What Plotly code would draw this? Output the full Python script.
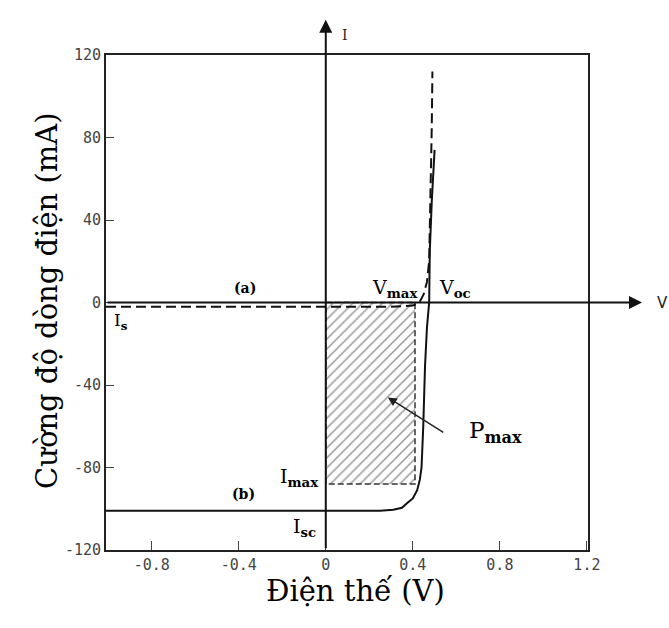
import plotly.graph_objects as go

# Data
x_tick_vals = [-0.8, -0.4, 0.0, 0.4, 0.8, 1.2]
x_tick_text = ["-0.8", "-0.4", "0", "0.4", "0.8", "1.2"]
y_tick_vals = [120, 80, 40, 0, -40, -80, -120]
y_tick_text = ["120", "80", "40", "0", "-40", "-80", "-120"]

# curve (b): illuminated I-V curve (solid)
v_b = [-1.01, 0.0, 0.25, 0.31, 0.35, 0.377, 0.40, 0.42, 0.432, 0.44, 0.448, 0.456, 0.465, 0.475, 0.478, 0.487, 0.50]
i_b = [-101, -101, -101, -100.5, -99.5, -97, -95, -91, -86, -80, -60, -31, -12, 0, 25, 49, 74]

# curve (a): dark I-V curve (dashed)
v_a = [-1.01, 0.0, 0.3, 0.4, 0.43, 0.45, 0.465, 0.475, 0.482, 0.487, 0.49]
i_a = [-2, -2, -2, -1.5, 0, 4, 10, 20, 50, 85, 112]

# maximum power point
v_max = 0.41
i_max = -88

fig = go.Figure()

# hatched max-power rectangle
fig.add_trace(go.Scatter(
    x=[0, v_max, v_max, 0, 0], y=[0, 0, i_max, i_max, 0],
    mode="lines", fill="toself", fillcolor="rgba(255,255,255,0)",
    fillpattern=dict(shape="/", fgcolor="#333", bgcolor="white", size=7, solidity=0.22),
    line=dict(color="#333", width=1.5, dash="6px,3px"),
    hoverinfo="skip", showlegend=False))

fig.add_trace(go.Scatter(
    x=v_a, y=i_a, mode="lines",
    line=dict(color="#111", width=2, dash="10px,5px"),
    hoverinfo="skip", showlegend=False))

fig.add_trace(go.Scatter(
    x=v_b, y=i_b, mode="lines",
    line=dict(color="#111", width=2),
    hoverinfo="skip", showlegend=False))

serif = "DejaVu Serif"
anns = []
# axis arrows through the origin
anns.append(dict(x=1.112, xref="paper", y=0, yref="y", ax=-536, ay=0,
                 showarrow=True, arrowhead=2, arrowsize=1.3, arrowwidth=2,
                 arrowcolor="#111", text=""))
anns.append(dict(x=0, xref="x", y=1.071, yref="paper", ax=0, ay=530,
                 showarrow=True, arrowhead=2, arrowsize=1.3, arrowwidth=2,
                 arrowcolor="#111", text=""))
anns.append(dict(x=1.155, xref="paper", y=0, yref="y", text="V", showarrow=False,
                 font=dict(family="DejaVu Sans", size=15, color="#222"), xanchor="center"))
anns.append(dict(x=0.09, xref="x", y=1.06, yref="paper", text="I", showarrow=False,
                 font=dict(family=serif, size=14, color="#222")))

def lab(x, y, text, size=19):
    anns.append(dict(x=x, y=y, xref="x", yref="y", text=text, showarrow=False,
                     font=dict(family=serif, size=size, color="#000")))

lab(-0.372, 7, "<b>(a)</b>", 14)
lab(-0.38, -93, "<b>(b)</b>", 14)
lab(0.32, 7, "V<sub><b>max</b></sub>", 19)
lab(0.595, 7, "V<sub><b>oc</b></sub>", 19)
lab(-0.94, -9, "I<sub><b>s</b></sub>", 17)
lab(-0.12, -85, "I<sub><b>max</b></sub>", 19)
lab(-0.10, -109, "I<sub><b>sc</b></sub>", 19)
lab(0.78, -63, "P<sub><b>max</b></sub>", 23)

# P_max pointer arrow
anns.append(dict(x=0.285, y=-46, xref="x", yref="y", ax=57, ay=36, text="",
                 showarrow=True, arrowhead=2, arrowsize=1.2, arrowwidth=1.5,
                 arrowcolor="#222"))

# axis titles
anns.append(dict(x=-0.162, y=0.503, xref="paper", yref="paper",
                 text="Cường độ dòng điện (mA)", textangle=-90, showarrow=False,
                 font=dict(family=serif, size=29, color="#000")))
anns.append(dict(x=0.517, y=-0.121, xref="paper", yref="paper",
                 text="Điện thế (V)", showarrow=False,
                 font=dict(family=serif, size=29, color="#000")))

fig.update_layout(
    width=669, height=628,
    margin=dict(l=106, r=81, t=55, b=78),
    plot_bgcolor="white", paper_bgcolor="white",
    showlegend=False, hovermode=False,
    annotations=anns,
    xaxis=dict(range=[-1.01, 1.205], showline=True, mirror=True, linecolor="#222",
               linewidth=2, ticks="inside", ticklen=9, tickcolor="#444",
               tickvals=x_tick_vals, ticktext=x_tick_text, showgrid=False,
               zeroline=False, fixedrange=True,
               tickfont=dict(family="DejaVu Sans Mono", size=15, color="#444")),
    yaxis=dict(range=[-120, 120], showline=True, mirror=True, linecolor="#222",
               linewidth=2, ticks="inside", ticklen=8, tickcolor="#444",
               tickvals=y_tick_vals, ticktext=y_tick_text, showgrid=False,
               zeroline=False, fixedrange=True,
               tickfont=dict(family="DejaVu Sans Mono", size=15, color="#444")),
)

fig.write_html("out.html", config={"displayModeBar": False})
